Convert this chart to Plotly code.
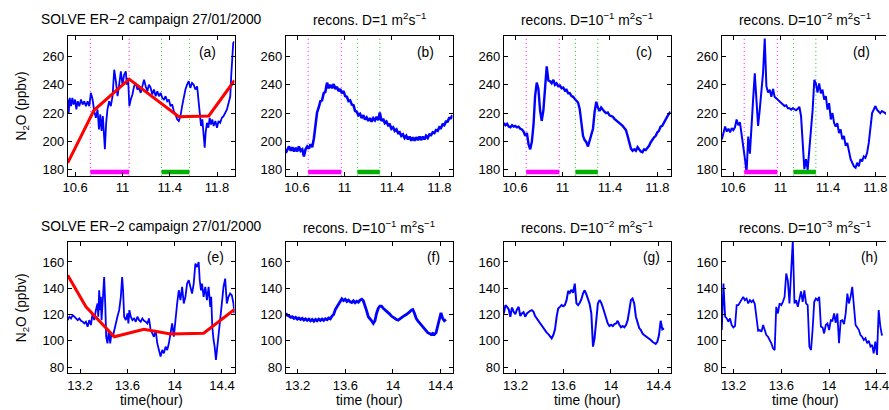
import plotly.graph_objects as go

# ---------------- DATA ----------------
# Panel (a): observed N2O (hours, ppbv)
t_a = [10.538, 10.546, 10.555, 10.566, 10.577, 10.588, 10.600, 10.611, 10.622, 10.636,
       10.650, 10.664, 10.678, 10.692, 10.706, 10.720, 10.734, 10.748, 10.762, 10.776,
       10.790, 10.802, 10.813, 10.824, 10.835, 10.844, 10.852, 10.863, 10.874, 10.888,
       10.902, 10.917, 10.931, 10.945, 10.959, 10.973, 10.987, 11.001, 11.015, 11.029,
       11.037, 11.048, 11.059, 11.071, 11.085, 11.099, 11.113, 11.127, 11.141, 11.155,
       11.169, 11.183, 11.197, 11.211, 11.225, 11.239, 11.253, 11.267, 11.281, 11.295,
       11.309, 11.323, 11.337, 11.351, 11.365, 11.379, 11.393, 11.407, 11.421, 11.435,
       11.449, 11.463, 11.477, 11.491, 11.505, 11.519, 11.533, 11.547, 11.561, 11.575,
       11.589, 11.603, 11.617, 11.632, 11.643, 11.654, 11.665, 11.676, 11.687, 11.696,
       11.704, 11.715, 11.727, 11.738, 11.749, 11.760, 11.772, 11.786, 11.800, 11.813,
       11.827, 11.841, 11.855, 11.869, 11.884, 11.898, 11.912, 11.920, 11.929, 11.937,
       11.946]
n2o_a = [229.6, 220.2, 230.8, 224.9, 230.8, 226.1, 229.6, 222.6, 228.4, 224.9,
         229.6, 226.1, 228.4, 224.9, 228.4, 224.9, 234.3, 229.6, 221.4, 216.7,
         222.6, 208.5, 219.1, 207.4, 217.9, 201.5, 194.5, 213.2, 222.6, 228.4,
         224.9, 231.9, 250.6, 242.5, 231.9, 240.1, 249.5, 240.1, 247.1, 249.5,
         240.1, 244.8, 224.9, 229.6, 233.1, 238.9, 241.3, 236.6, 237.8, 234.3,
         240.1, 243.6, 238.9, 235.4, 240.1, 237.8, 233.1, 236.6, 231.9, 235.4,
         231.9, 234.3, 230.8, 229.6, 231.9, 228.4, 229.6, 224.9, 226.1, 221.4,
         219.1, 215.6, 214.4, 217.9, 224.9, 231.9, 236.6, 240.1, 242.5, 237.8,
         241.3, 240.1, 236.6, 238.9, 229.6, 220.2, 210.9, 215.6, 203.9, 195.7,
         206.2, 213.2, 209.7, 216.7, 212.0, 215.6, 210.9, 214.4, 209.7, 214.4,
         213.2, 216.7, 217.9, 220.2, 222.6, 227.2, 231.9, 246.0, 262.3, 269.4,
         270.5]
# Panel (a): model (red) curve
t_a_model = [10.538, 10.76, 11.057, 11.477, 11.73, 11.948]
n2o_a_model = [185.0, 222.0, 244.0, 217.5, 218.0, 243.0]

# Panels (b)-(d): reconstructions on a common time grid
t_top = [10.505, 10.519, 10.533, 10.547, 10.561, 10.575, 10.589, 10.602, 10.616, 10.630,
         10.644, 10.658, 10.672, 10.686, 10.700, 10.714, 10.728, 10.742, 10.756, 10.769,
         10.783, 10.797, 10.811, 10.825, 10.839, 10.853, 10.867, 10.881, 10.895, 10.909,
         10.923, 10.937, 10.950, 10.964, 10.978, 10.992, 11.006, 11.020, 11.034, 11.048,
         11.062, 11.076, 11.090, 11.104, 11.117, 11.131, 11.145, 11.159, 11.173, 11.187,
         11.201, 11.215, 11.229, 11.243, 11.257, 11.271, 11.285, 11.298, 11.312, 11.326,
         11.340, 11.354, 11.368, 11.382, 11.396, 11.410, 11.424, 11.438, 11.452, 11.465,
         11.479, 11.493, 11.507, 11.521, 11.535, 11.549, 11.563, 11.577, 11.591, 11.605,
         11.619, 11.633, 11.646, 11.660, 11.674, 11.688, 11.702, 11.716, 11.730, 11.744,
         11.758, 11.772, 11.786, 11.800, 11.813, 11.827, 11.841, 11.855, 11.869, 11.883,
         11.897, 11.911]
n2o_b = [192.0, 194.5, 196.5, 193.5, 196.0, 193.0, 195.5, 193.0, 196.5, 193.5,
         194.5, 189.5, 194.5, 196.5, 195.0, 198.0, 196.0, 202.0, 211.0, 220.5,
         224.0, 228.5, 229.0, 234.0, 235.0, 241.5, 237.5, 240.0, 237.5, 240.5,
         237.0, 238.5, 235.5, 237.0, 234.0, 235.5, 232.0, 231.5, 228.5, 229.0,
         226.0, 225.5, 221.5, 221.0, 218.5, 219.5, 216.5, 218.5, 215.5, 217.0,
         214.5, 216.5, 214.0, 216.5, 215.0, 217.5, 215.0, 220.5, 214.5, 216.0,
         213.0, 214.0, 211.5, 212.0, 209.0, 210.0, 207.5, 208.5, 206.0, 206.5,
         204.0, 205.0, 202.5, 204.0, 201.5, 203.5, 200.5, 203.0, 200.5, 203.0,
         201.0, 203.5, 201.0, 203.5, 201.5, 204.0, 202.5, 205.0, 204.5, 206.5,
         206.0, 208.0, 207.5, 210.0, 209.5, 212.0, 211.5, 214.0, 214.0, 216.5,
         216.5, 218.5]
n2o_c = [213.0, 211.5, 212.5, 210.5, 210.0, 211.5, 210.5, 211.0, 210.0, 210.5,
         209.0, 208.5, 207.0, 204.0, 206.0, 198.0, 194.5, 200.0, 212.0, 232.0,
         241.5, 237.0, 222.0, 214.5, 222.0, 241.5, 253.0, 243.0, 242.5, 241.0,
         243.5, 240.0, 241.0, 239.0, 239.5, 237.5, 238.0, 236.0, 236.5, 234.0,
         234.0, 232.0, 231.5, 230.0, 229.0, 227.5, 223.0, 212.0, 204.0, 201.0,
         199.5, 196.5, 200.5, 204.0, 209.0, 221.0, 228.0, 224.0, 221.5, 224.0,
         222.0, 221.0, 220.0, 220.5, 218.5, 218.0, 217.5, 216.0, 215.0, 214.5,
         213.0, 212.5, 211.0, 209.5, 208.0, 204.0, 199.0, 195.0, 193.5, 194.5,
         193.5, 196.0, 194.5, 193.0, 192.5, 194.5, 194.0, 195.5, 197.0, 199.5,
         201.5, 203.0, 204.0, 206.5, 207.5, 210.5, 211.0, 213.5, 215.5, 217.5,
         219.5, 221.0]
n2o_d = [201.5, 206.0, 210.5, 207.0, 209.0, 206.5, 209.5, 208.0, 210.0, 215.5,
         211.5, 213.5, 206.0, 196.5, 188.0, 178.0, 203.5, 191.5, 215.5, 229.5,
         248.0, 230.0, 211.0, 222.5, 234.0, 248.5, 272.5, 239.0, 234.5, 236.5,
         231.5, 237.0, 231.5, 230.5, 229.5, 228.0, 227.0, 226.0, 225.0, 225.5,
         223.5, 223.5, 222.5, 223.5, 223.0, 222.0, 223.0, 224.5, 218.0, 201.5,
         180.5, 187.5, 180.0, 194.5, 206.0, 222.5, 243.5, 241.0, 234.5, 241.0,
         234.0, 236.5, 229.5, 232.0, 222.5, 227.0, 215.5, 220.0, 213.0, 210.5,
         213.0, 206.0, 208.5, 201.5, 204.0, 197.0, 199.0, 192.0, 187.5, 185.0,
         182.5, 181.5, 185.0, 182.5, 187.5, 186.0, 189.5, 188.5, 192.0, 199.0,
         211.0, 220.0, 222.5, 225.0, 222.5, 221.0, 220.0, 221.5, 221.0, 220.0,
         219.0, 219.5]

# Highlighted intervals (hours) in top row
pink_a = [10.729, 11.057]
green_a = [11.331, 11.567]
pink_rec = [10.694, 10.973]
green_rec = [11.109, 11.298]
bar_level = 178.5

# Panel (e): observed N2O
t_e = [13.096, 13.110, 13.124, 13.138, 13.152, 13.166, 13.180, 13.194, 13.208, 13.222,
       13.236, 13.250, 13.264, 13.278, 13.292, 13.306, 13.320, 13.334, 13.348, 13.354,
       13.362, 13.371, 13.376, 13.382, 13.390, 13.399, 13.404, 13.413, 13.421, 13.432,
       13.444, 13.455, 13.466, 13.477, 13.488, 13.502, 13.516, 13.531, 13.545, 13.556,
       13.564, 13.573, 13.587, 13.601, 13.609, 13.617, 13.629, 13.643, 13.657, 13.671,
       13.685, 13.699, 13.713, 13.727, 13.741, 13.755, 13.769, 13.783, 13.797, 13.811,
       13.825, 13.839, 13.853, 13.867, 13.881, 13.895, 13.909, 13.923, 13.937, 13.951,
       13.965, 13.979, 13.993, 14.007, 14.021, 14.035, 14.049, 14.063, 14.077, 14.091,
       14.105, 14.119, 14.133, 14.147, 14.161, 14.175, 14.189, 14.203, 14.212, 14.223,
       14.231, 14.245, 14.259, 14.273, 14.287, 14.301, 14.309, 14.318, 14.329, 14.338,
       14.349, 14.357, 14.371, 14.385, 14.399, 14.413, 14.427, 14.441, 14.455, 14.469,
       14.483, 14.497, 14.505]
n2o_e = [115.8, 118.4, 117.1, 119.6, 118.4, 117.1, 115.8, 117.1, 115.3, 114.6,
         113.3, 114.6, 110.8, 115.8, 112.1, 120.9, 115.8, 123.4, 128.5, 118.4,
         138.5, 123.4, 133.5, 115.8, 125.9, 142.3, 148.6, 128.5, 103.2, 98.2,
         108.3, 98.2, 105.7, 103.2, 108.3, 113.3, 118.4, 123.4, 133.5, 148.6,
         138.5, 118.4, 115.8, 120.9, 113.3, 123.4, 118.4, 115.8, 117.1, 114.6,
         118.4, 115.8, 114.6, 117.1, 115.3, 114.6, 113.3, 117.1, 108.3, 105.7,
         103.2, 108.3, 98.2, 93.1, 88.1, 93.1, 90.6, 95.7, 93.1, 98.2,
         105.7, 113.3, 103.2, 118.4, 128.5, 138.5, 131.0, 141.1, 128.5, 133.5,
         143.6, 146.1, 141.1, 136.0, 143.6, 158.7, 156.2, 160.0, 146.1, 138.5,
         143.6, 133.5, 141.1, 131.0, 141.1, 125.9, 133.5, 110.8, 100.7, 95.7,
         85.6, 93.1, 108.3, 120.9, 128.5, 141.1, 147.4, 128.5, 133.5, 136.0,
         134.8, 128.5, 120.9]
t_e_model = [13.096, 13.25, 13.49, 13.74, 13.965, 14.245, 14.506]
n2o_e_model = [150.0, 126.0, 103.2, 108.8, 105.2, 105.8, 124.0]

# Panels (f)-(h): reconstructions on a common time grid
t_bot = [13.100, 13.114, 13.128, 13.142, 13.155, 13.169, 13.183, 13.197, 13.211, 13.225,
         13.239, 13.252, 13.266, 13.280, 13.294, 13.308, 13.322, 13.336, 13.350, 13.363,
         13.377, 13.391, 13.405, 13.419, 13.433, 13.447, 13.460, 13.474, 13.488, 13.502,
         13.516, 13.530, 13.544, 13.557, 13.571, 13.585, 13.599, 13.613, 13.627, 13.641,
         13.654, 13.668, 13.682, 13.696, 13.710, 13.724, 13.738, 13.751, 13.765, 13.779,
         13.793, 13.807, 13.821, 13.835, 13.849, 13.862, 13.876, 13.890, 13.904, 13.918,
         13.932, 13.946, 13.959, 13.973, 13.987, 14.001, 14.015, 14.029, 14.043, 14.056,
         14.070, 14.084, 14.098, 14.112, 14.126, 14.140, 14.154, 14.167, 14.181, 14.195,
         14.209, 14.223, 14.237, 14.251, 14.264, 14.278, 14.292, 14.306, 14.320, 14.334,
         14.348, 14.362, 14.375, 14.389, 14.403, 14.417, 14.431, 14.445]
n2o_f = [120.9, 119.4, 118.9, 117.9, 118.4, 117.1, 117.9, 116.6, 117.4, 116.3,
         117.1, 115.8, 116.8, 115.6, 116.6, 115.3, 116.3, 115.0, 116.3, 115.3,
         116.6, 115.6, 116.6, 115.6, 116.8, 116.1, 117.4, 116.8, 118.9, 120.1,
         123.9, 125.9, 128.0, 129.5, 132.0, 130.7, 131.7, 130.0, 131.0, 129.7,
         129.2, 130.5, 129.0, 130.2, 129.5, 131.0, 131.7, 130.5, 127.2, 122.9,
         118.4, 117.1, 115.3, 113.3, 115.3, 120.9, 124.7, 126.4, 126.4, 124.9,
         123.9, 122.9, 121.4, 120.4, 118.9, 117.9, 117.1, 116.3, 115.8, 116.8,
         117.9, 118.9, 119.4, 120.1, 120.9, 122.1, 123.4, 123.9, 120.9, 117.1,
         115.3, 113.8, 112.8, 110.8, 109.3, 107.8, 106.3, 105.7, 104.9, 105.7,
         104.9, 106.3, 110.8, 117.1, 121.4, 117.1, 115.3, 116.3]
n2o_g = [120.9, 127.2, 125.9, 123.9, 118.4, 125.4, 122.1, 120.4, 123.9, 125.9,
         118.9, 120.9, 121.9, 118.4, 120.9, 122.1, 122.9, 123.4, 122.1, 118.9,
         117.1, 115.3, 112.8, 111.3, 109.3, 107.8, 106.3, 105.2, 103.2, 102.0,
         104.5, 108.8, 118.4, 124.7, 125.9, 127.2, 126.4, 127.2, 131.0, 138.0,
         136.5, 139.0, 136.5, 143.6, 128.5, 127.2, 129.0, 131.5, 136.0, 138.5,
         135.5, 131.0, 128.0, 120.9, 95.7, 102.0, 118.4, 128.5, 131.0, 129.0,
         125.4, 121.4, 116.3, 113.3, 111.3, 112.3, 111.3, 112.8, 113.3, 115.3,
         112.3, 110.3, 111.3, 110.3, 112.1, 115.8, 123.4, 131.0, 132.2, 128.5,
         118.4, 112.8, 109.8, 108.3, 105.7, 104.5, 103.7, 102.7, 102.0, 100.7,
         99.4, 98.2, 97.7, 99.4, 104.5, 115.3, 108.8, 109.6]
n2o_h = [108.3, 143.6, 118.4, 117.1, 114.6, 117.1, 112.1, 110.3, 111.3, 127.2,
         127.2, 129.0, 131.0, 133.5, 131.0, 132.2, 128.5, 131.0, 129.5, 131.0,
         128.0, 115.8, 107.8, 108.3, 107.0, 112.1, 108.3, 104.5, 103.2, 100.7,
         98.2, 94.4, 93.1, 125.9, 120.9, 128.5, 127.2, 129.7, 133.5, 151.2,
         146.1, 128.5, 148.6, 176.4, 128.5, 131.0, 125.9, 131.0, 137.7, 129.7,
         138.5, 128.5, 127.2, 95.7, 93.1, 108.3, 129.7, 132.2, 131.0, 133.5,
         110.8, 110.3, 105.7, 112.1, 113.3, 108.3, 115.8, 115.3, 120.9, 113.8,
         120.9, 98.2, 115.3, 115.8, 112.8, 120.9, 136.0, 128.5, 133.5, 141.1,
         128.5, 112.1, 110.3, 108.3, 104.5, 103.2, 100.7, 102.0, 98.2, 100.2,
         95.7, 97.0, 90.6, 99.4, 89.4, 123.4, 110.8, 104.0]

# Tick labels
top_xticks = [10.6, 11.0, 11.4, 11.8]
top_xtext = ["10.6", "11", "11.4", "11.8"]
top_yticks = [180, 200, 220, 240, 260]
bot_xticks = [13.2, 13.6, 14.0, 14.4]
bot_xtext = ["13.2", "13.6", "14", "14.4"]
bot_yticks = [80, 100, 120, 140, 160]

titles_top = ["SOLVE ER\u22122 campaign 27/01/2000",
              "recons. D=1 m<sup>2</sup>s<sup>\u22121</sup>",
              "recons. D=10<sup>\u22121</sup> m<sup>2</sup>s<sup>\u22121</sup>",
              "recons. D=10<sup>\u22122</sup> m<sup>2</sup>s<sup>\u22121</sup>"]
titles_bot = ["SOLVE ER\u22122 campaign 27/01/2000",
              "recons. D=10<sup>\u22121</sup> m<sup>2</sup>s<sup>\u22121</sup>",
              "recons. D=10<sup>\u22122</sup> m<sup>2</sup>s<sup>\u22121</sup>",
              "recons. D=10<sup>\u22123</sup> m<sup>2</sup>s<sup>\u22121</sup>"]
labels_top = ["(a)", "(b)", "(c)", "(d)"]
labels_bot = ["(e)", "(f)", "(g)", "(h)"]
ylabel = "N<sub>2</sub>O (ppbv)"
xlabels_bot = ["time(hour)", "time (hour)", "time (hour)", "time (hour)"]

# ---------------- LAYOUT ----------------
W, H = 889, 410
FONT = "Liberation Sans, Arial, Helvetica, sans-serif"
FS_TICK = 13
FS_TEXT = 13.8
BLUE = "#0000ff"
RED = "#ff0000"
MAG = "#ff00ff"
GRN = "#00b000"

col_left = [63.3, 283.3, 503.3, 723.3]
panel_w = 168.3
top_px = (35.7, 176.7)
bot_px = (243.3, 375.0)
top_x_ranges = [[10.538, 11.948], [10.505, 11.911], [10.505, 11.911], None]
bot_x_range0 = [13.096, 14.506]
top_y_range = [175.8, 274.7]
bot_y_range = [75.5, 175.1]


def px2x(p):
    return p / W


def px2y(p):
    return 1 - p / H


fig = go.Figure()
layout = {}

for row in range(2):
    for col in range(4):
        idx = row * 4 + col + 1
        left = col_left[col]
        right = min(left + panel_w, W)
        ypx = top_px if row == 0 else bot_px
        xd = [px2x(left), px2x(right)]
        yd = [px2y(ypx[1]), px2y(ypx[0])]
        if row == 0:
            if col == 0:
                xr = top_x_ranges[0]
            else:
                base = top_x_ranges[1]
                span = (base[1] - base[0]) * (right - left) / panel_w
                xr = [base[0], base[0] + span]
            yr = top_y_range
            tv, tt, ytv = top_xticks, top_xtext, top_yticks
        else:
            if col == 0:
                xr = bot_x_range0
            else:
                base = [13.1, 14.5]
                span = (base[1] - base[0]) * (right - left) / panel_w
                xr = [base[0], base[0] + span]
            yr = bot_y_range
            tv, tt, ytv = bot_xticks, bot_xtext, bot_yticks
        sfx = "" if idx == 1 else str(idx)
        layout["xaxis" + sfx] = dict(
            domain=xd, range=xr, anchor="y" + sfx, tickmode="array",
            tickvals=tv, ticktext=tt, ticks="inside", ticklen=4, tickwidth=1,
            tickcolor="black", showline=True, linecolor="black", linewidth=1,
            mirror="ticks", showgrid=False, zeroline=False,
            ticklabeloverflow="allow",
            tickfont=dict(family=FONT, size=FS_TICK, color="black"))
        layout["yaxis" + sfx] = dict(
            domain=yd, range=yr, anchor="x" + sfx, tickmode="array",
            tickvals=ytv, ticks="inside", ticklen=4, tickwidth=1,
            tickcolor="black", showline=True, linecolor="black", linewidth=1,
            mirror=("ticks" if col < 3 else False), showgrid=False, zeroline=False,
            ticklabeloverflow="allow",
            tickfont=dict(family=FONT, size=FS_TICK, color="black"))

fig.update_layout(**layout)


def ax(idx):
    s = "" if idx == 1 else str(idx)
    return "x" + s, "y" + s


def add_line(idx, x, y, color, width, dash="solid"):
    xa, ya = ax(idx)
    fig.add_trace(go.Scatter(x=x, y=y, mode="lines", xaxis=xa, yaxis=ya,
                             line=dict(color=color, width=width, dash=dash),
                             showlegend=False, hoverinfo="skip"))


# top row: interval markers (dotted lines)
for idx in range(1, 5):
    pk = pink_a if idx == 1 else pink_rec
    gr = green_a if idx == 1 else green_rec
    for xv in pk:
        add_line(idx, [xv, xv], top_y_range, MAG, 1, "1px,3px")
    for xv in gr:
        add_line(idx, [xv, xv], top_y_range, "#22bb22", 1, "1px,3px")

# top row data
add_line(1, t_a, n2o_a, BLUE, 1.8)
add_line(1, t_a_model, n2o_a_model, RED, 3)
add_line(2, t_top, n2o_b, BLUE, 2.6)
add_line(3, t_top, n2o_c, BLUE, 2.4)
add_line(4, t_top, n2o_d, BLUE, 2.0)

# top row bars
for idx in range(1, 5):
    pk = pink_a if idx == 1 else pink_rec
    gr = green_a if idx == 1 else green_rec
    add_line(idx, pk, [bar_level, bar_level], MAG, 4.5)
    add_line(idx, gr, [bar_level, bar_level], GRN, 4.5)

# bottom row data
add_line(5, t_e, n2o_e, BLUE, 1.8)
add_line(5, t_e_model, n2o_e_model, RED, 3)
add_line(6, t_bot, n2o_f, BLUE, 2.8)
add_line(7, t_bot, n2o_g, BLUE, 2.0)
add_line(8, t_bot, n2o_h, BLUE, 1.8)

ann = []
for col in range(4):
    left = col_left[col]
    cx = left + panel_w / 2
    ann.append(dict(text=titles_top[col], x=px2x(cx), y=px2y(19.5)))
    ann.append(dict(text=titles_bot[col], x=px2x(cx), y=px2y(228)))
    ann.append(dict(text=labels_top[col], x=px2x(left + 141), y=px2y(52.5)))
    ann.append(dict(text=labels_bot[col], x=px2x(left + 149.5), y=px2y(258.8)))
    ann.append(dict(text=xlabels_bot[col], x=px2x(cx), y=px2y(402)))
ann.append(dict(text=ylabel, x=px2x(18), y=px2y(106.2), textangle=-90))
ann.append(dict(text=ylabel, x=px2x(18), y=px2y(309), textangle=-90))
for a in ann:
    a.update(xref="paper", yref="paper", showarrow=False, xanchor="center",
             yanchor="middle", font=dict(family=FONT, size=FS_TEXT, color="black"))

fig.update_layout(width=W, height=H, autosize=False,
                  margin=dict(l=0, r=0, t=0, b=0, pad=0),
                  paper_bgcolor="white", plot_bgcolor="white",
                  font=dict(family=FONT, size=FS_TEXT, color="black"),
                  showlegend=False, annotations=ann)

fig.write_html("out.html", config={"displayModeBar": False},
               post_script="document.body.style.margin='0px';"
                           "document.body.style.padding='0px';"
                           "document.body.style.overflow='hidden';")
